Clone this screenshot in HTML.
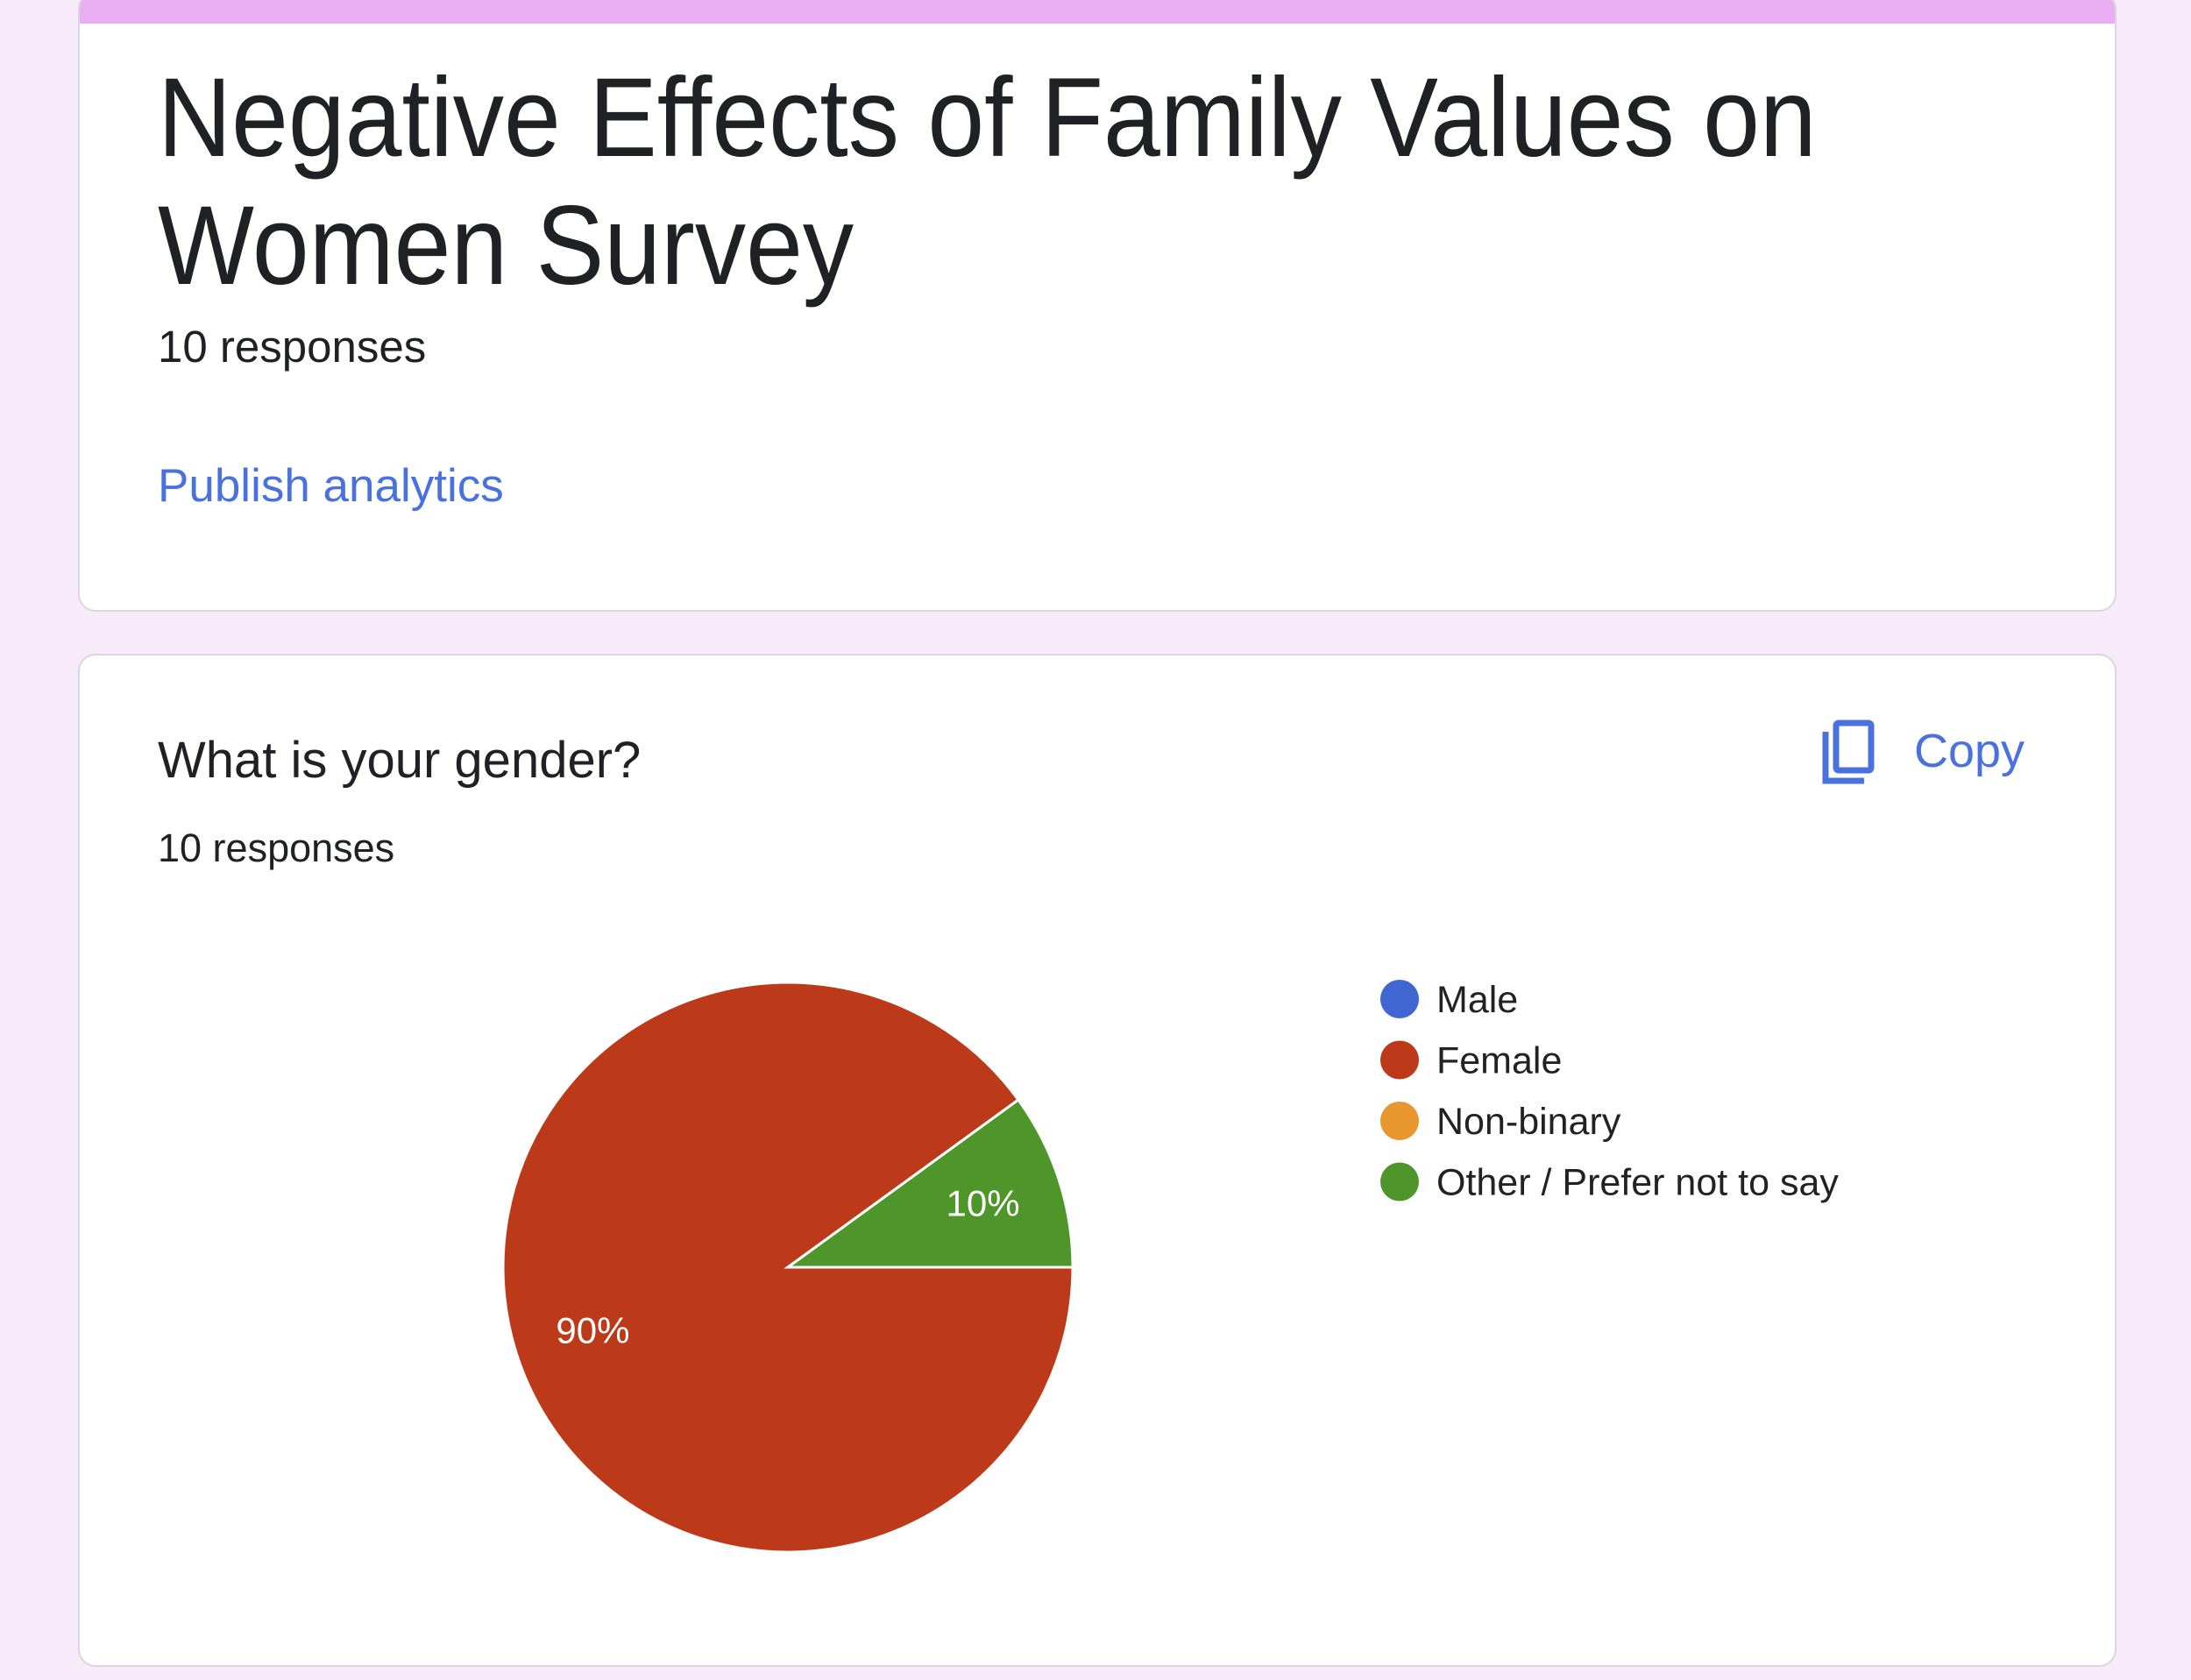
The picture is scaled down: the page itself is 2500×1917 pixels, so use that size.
<!DOCTYPE html>
<html><head><meta charset="utf-8"><style>
html,body{margin:0;padding:0;width:2500px;height:1917px;background:#f7eaf9;overflow:hidden;font-family:"Liberation Sans",sans-serif;}
.card{position:absolute;left:89px;width:2326px;background:#fff;border:2px solid #dcd6de;border-radius:20px;box-sizing:border-box;overflow:hidden;}
.t{position:absolute;white-space:nowrap;}
</style></head><body>
<div class="card" style="top:-10px;height:708px;">
  <div style="position:absolute;left:0;top:0;width:100%;height:35px;background:#e9adf2;"></div>
  <div class="t" style="left:89px;top:70px;font-size:128px;line-height:146px;color:#202124;transform:scaleX(0.91);transform-origin:0 0;">Negative Effects of Family Values on<br>Women Survey</div>
  <div class="t" style="left:89px;top:374px;font-size:51px;color:#202124;">10 responses</div>
  <div class="t" style="left:89px;top:532px;font-size:53px;color:#4a72df;">Publish analytics</div>
</div>
<div class="card" style="top:746px;height:1156px;">
  <div class="t" style="left:89px;top:86px;font-size:58px;color:#202124;">What is your gender?</div>
  <div class="t" style="left:89px;top:194px;font-size:45px;color:#202124;">10 responses</div>
  <svg style="position:absolute;left:1984px;top:73px;" width="66" height="76" viewBox="0 0 66 76">
    <path d="M8 14 V70 H52" fill="none" stroke="#4a72df" stroke-width="7"/>
    <rect x="20" y="4" width="40" height="54" rx="3" fill="none" stroke="#4a72df" stroke-width="7"/>
  </svg>
  <div class="t" style="left:2093px;top:78px;font-size:54px;color:#4a72df;">Copy</div>
</div>
<svg id="pie" style="position:absolute;left:0;top:0;" width="2500" height="1917"></svg>
<script>
const categories=["Male","Female","Non-binary","Other / Prefer not to say"];
const values=[0,9,0,1];
const colors=["#3f66d1","#bc3a1a","#e8962e","#4f962a"];
const svg=document.getElementById('pie');
const NS="http://www.w3.org/2000/svg";
const cx=899,cy=1446,r=325;
const total=values.reduce((a,b)=>a+b,0);
let ang=-Math.PI/2;
const slices=[];
values.forEach((v,i)=>{
  if(!v) return;
  const a0=ang, a1=ang+v/total*2*Math.PI; ang=a1;
  slices.push({i,a0,a1});
});
const shift=-slices[slices.length-1].a1;
slices.forEach(s=>{
  const a0=s.a0+shift,a1=s.a1+shift;
  const p=document.createElementNS(NS,'path');
  const large=(a1-a0)>Math.PI?1:0;
  const x0=cx+r*Math.cos(a0),y0=cy+r*Math.sin(a0),x1=cx+r*Math.cos(a1),y1=cy+r*Math.sin(a1);
  p.setAttribute('d',`M${cx},${cy} L${x0},${y0} A${r},${r} 0 ${large} 1 ${x1},${y1} Z`);
  p.setAttribute('fill',colors[s.i]);
  p.setAttribute('stroke','#fff');
  p.setAttribute('stroke-width','3');
  
  
  svg.appendChild(p);
  const m=(a0+a1)/2, lr=r*0.72;
  const t=document.createElementNS(NS,'text');
  t.setAttribute('x',cx+lr*Math.cos(m)); t.setAttribute('y',cy+lr*Math.sin(m)+14);
  t.setAttribute('text-anchor','middle'); t.setAttribute('fill','#fff');
  t.setAttribute('font-size','42'); t.setAttribute('font-family','Liberation Sans, sans-serif');
  t.textContent=Math.round(values[s.i]/total*100)+'%';
  
  
  svg.appendChild(t);
});
categories.forEach((c,i)=>{
  const y=1140+i*69.5;
  const d=document.createElementNS(NS,'circle');
  d.setAttribute('cx',1597); d.setAttribute('cy',y); d.setAttribute('r',22); d.setAttribute('fill',colors[i]);
  
  
  svg.appendChild(d);
  const t=document.createElementNS(NS,'text');
  t.setAttribute('x',1639); t.setAttribute('y',y+15);
  t.setAttribute('font-size','43'); t.setAttribute('fill','#222'); t.setAttribute('font-family','Liberation Sans, sans-serif');
  t.textContent=c;
  
  
  svg.appendChild(t);
});
</script>
</body></html>
